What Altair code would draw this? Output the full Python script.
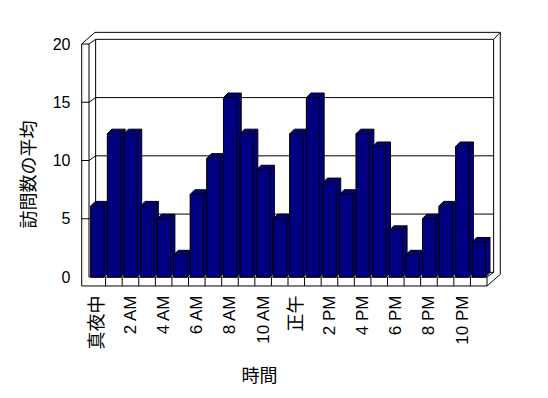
import altair as alt
import pandas as pd

# ---- data ----
hour_labels = ["真夜中", "2 AM", "4 AM", "6 AM", "8 AM", "10 AM",
               "正午", "2 PM", "4 PM", "6 PM", "8 PM", "10 PM"]
avg_visits = [6.1, 12.3, 12.3, 6.1, 5.0, 1.9, 7.1, 10.2, 15.4, 12.3, 9.2, 5.0,
              12.3, 15.4, 8.1, 7.1, 12.3, 11.2, 4.0, 1.9, 5.0, 6.1, 11.2, 3.0]
y_ticks = [0, 5, 10, 15, 20]
x_title = "時間"
y_title = "訪問数の平均"

# ---- 3D geometry (in data units) ----
N = len(avg_visits)
YMAX = 20
BAR_L, BAR_R = 0.11, 0.91       # front face within band
BDX, BDY = 0.27, 0.39           # bar depth
DX, DY = 0.4, 0.4               # back wall depth
TX, TY = 0.4, 0.6               # wall thickness (depth)
LW, FT = 0.44, 0.77             # left wall thickness, floor thickness

NAVY = "#000080"
FONT = "Liberation Sans, Noto Sans CJK JP"

bars = pd.DataFrame({
    "hour": list(range(N)),
    "x1": [i + BAR_L for i in range(N)],
    "x2": [i + BAR_R for i in range(N)],
    "base": [0.0] * N,
    "v": avg_visits,
})
bars["ex"] = bars["x2"] + BDX
bars["ey"] = bars["v"] + BDY

sil_rows = []
for i, v in enumerate(avg_visits):
    x1, x2 = i + BAR_L, i + BAR_R
    sil_rows += [
        {"hour": i, "px": x1, "lo": 0.0, "hi": v},
        {"hour": i, "px": x1 + BDX, "lo": 0.0, "hi": v + BDY},
        {"hour": i, "px": x2, "lo": 0.0, "hi": v + BDY},
        {"hour": i, "px": x2 + BDX, "lo": BDY, "hi": v + BDY},
    ]
sil = pd.DataFrame(sil_rows)

segs = []
for g in y_ticks[1:]:
    segs += [(-LW, g, 0, g), (0, g, DX, g + DY), (DX, g + DY, N + DX, g + DY)]
segs += [
    (DX, DY, DX, YMAX + DY),
    (N + DX, DY, N + DX, YMAX + DY),
    (DX, DY, N + DX, DY),
    (0, 0, N, 0),
    (N, 0, N + DX, DY),
    (-LW, -FT, N, -FT),
    (N, 0, N, -FT),
    (N, -FT, N + DX + TX, -FT + DY + TY),
    (N + DX + TX, -FT + DY + TY, N + DX + TX, YMAX + DY + TY),
    (N + DX, YMAX + DY, N + DX + TX, YMAX + DY + TY),
    (-LW + DX + TX, YMAX + DY + TY, N + DX + TX, YMAX + DY + TY),
    (-LW, YMAX, -LW + DX + TX, YMAX + DY + TY),
    (-LW, YMAX, -LW, -FT),
    (0, YMAX, 0, 0),
]
for k in range(1, N):
    segs.append((k, 0, k, -FT))
lines = pd.DataFrame(segs, columns=["a", "b", "c", "d"])

xs = alt.Scale(domain=[0, N], nice=False, zero=False)
ys = alt.Scale(domain=[0, YMAX], nice=False, zero=False)

label_array = "[" + ",".join("'" + s + "'" for s in hour_labels) + "]"

x_axis = alt.Axis(
    values=[2 * k + 0.5 for k in range(len(hour_labels))],
    labelExpr=label_array + "[floor(datum.value / 2)]",
    labelAngle=270, labelPadding=9, ticks=False, tickSize=0, domain=False,
    grid=False, offset=9, labelFont=FONT,
    labelFontSize={"condition": {"test": "datum.value == 0.5 || datum.value == 12.5",
                                 "value": 18}, "value": 17},
    labelColor="black", title=x_title, titleFont="Noto Sans CJK JP",
    titleFontSize=18, titleFontWeight="normal", titleColor="black",
    titleX=170, titleY=90, titleAlign="center", titleBaseline="middle",
)
y_axis = alt.Axis(
    values=y_ticks, labelPadding=12, ticks=False, tickSize=0, domain=False,
    grid=False, offset=7, labelFont=FONT, labelFontSize=16, labelColor="black",
    title=y_title, titleFont="Noto Sans CJK JP", titleFontSize=18,
    titleFontWeight="normal", titleColor="black", titleAngle=270,
    titleX=-53, titleY=130, titleAlign="center", titleBaseline="middle",
)

frame = alt.Chart(lines).mark_rule(color="black", strokeWidth=1).encode(
    x=alt.X("a:Q", scale=xs, axis=x_axis, title=x_title),
    y=alt.Y("b:Q", scale=ys, axis=y_axis, title=y_title),
    x2="c:Q",
    y2="d:Q",
)

prism = alt.Chart(sil).mark_area(
    fill=NAVY, fillOpacity=1, stroke="black", strokeWidth=1, interpolate="linear"
).encode(
    x=alt.X("px:Q", scale=xs, axis=x_axis, title=x_title),
    y=alt.Y("lo:Q", scale=ys, axis=y_axis, title=y_title, stack=None),
    y2="hi:Q",
    detail="hour:N",
)

front = alt.Chart(bars).mark_rect(
    fill=NAVY, stroke="black", strokeWidth=1
).encode(
    x=alt.X("x1:Q", scale=xs, axis=x_axis, title=x_title),
    x2="x2:Q",
    y=alt.Y("base:Q", scale=ys, axis=y_axis, title=y_title),
    y2="v:Q",
)

edge = alt.Chart(bars).mark_rule(color="black", strokeWidth=1).encode(
    x=alt.X("x2:Q", scale=xs, axis=x_axis, title=x_title),
    y=alt.Y("v:Q", scale=ys, axis=y_axis, title=y_title),
    x2="ex:Q",
    y2="ey:Q",
)

chart = alt.layer(frame, prism, front, edge).properties(
    width=398, height=233,
    autosize=alt.AutoSizeParams(type="none"),
    padding={"left": 81, "top": 36, "right": 53, "bottom": 113},
    background="white",
).configure_view(stroke=None)

chart.save("out.html", embed_options={"renderer": "svg", "actions": False})
